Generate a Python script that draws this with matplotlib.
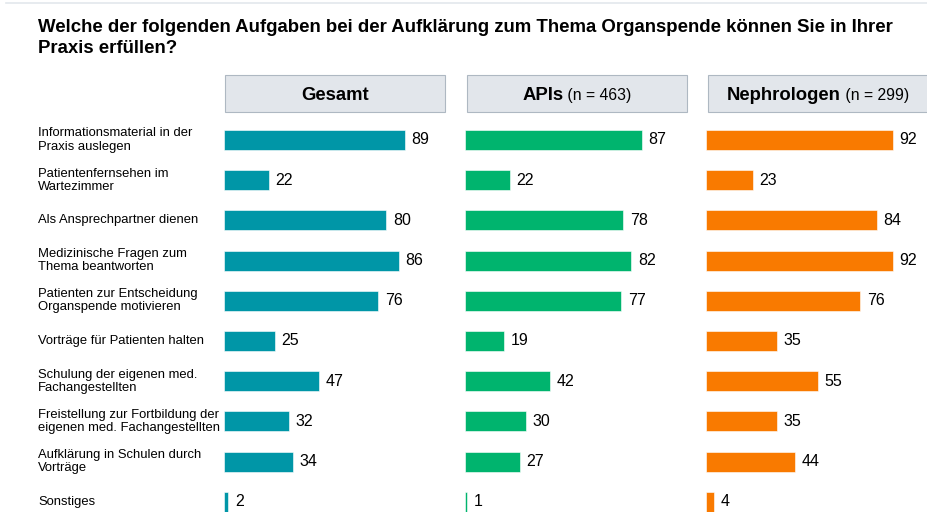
import matplotlib.pyplot as plt
from matplotlib.patches import Rectangle
from matplotlib.lines import Line2D

plt.rcParams['font.family'] = ['Liberation Sans', 'DejaVu Sans']

title = ('Welche der folgenden Aufgaben bei der Aufklärung zum Thema Organspende können Sie in Ihrer\n'
         'Praxis erfüllen?')

categories = [
    'Informationsmaterial in der\nPraxis auslegen',
    'Patientenfernsehen im\nWartezimmer',
    'Als Ansprechpartner dienen',
    'Medizinische Fragen zum\nThema beantworten',
    'Patienten zur Entscheidung\nOrganspende motivieren',
    'Vorträge für Patienten halten',
    'Schulung der eigenen med.\nFachangestellten',
    'Freistellung zur Fortbildung der\neigenen med. Fachangestellten',
    'Aufklärung in Schulen durch\nVorträge',
    'Sonstiges',
]
gesamt = [89, 22, 80, 86, 76, 25, 47, 32, 34, 2]
apis = [87, 22, 78, 82, 77, 19, 42, 30, 27, 1]
nephro = [92, 23, 84, 92, 76, 35, 55, 35, 44, 4]

headers_bold = ['Gesamt', 'APIs', 'Nephrologen']
headers_n = ['', ' (n = 463)', ' (n = 299)']
colors = ['#0096A7', '#00B46E', '#F97A00']
series = [gesamt, apis, nephro]

W, H = 927, 512
fig = plt.figure(figsize=(W / 100, H / 100), dpi=100)

# thin grey rule at the very top
fig.add_artist(Line2D([6 / W, 1], [1 - 3 / H, 1 - 3 / H], color='#E3E8EC', linewidth=1.2))

fig.text(38 / W, 1 - 19 / H, title, fontsize=13.4, fontweight='bold',
         ha='left', va='top', linespacing=1.3)

# layout in pixels
bar_x0 = [224, 465, 706]
box_x0 = [225, 467, 708]
box_w = 220
px_per_unit = 2.03
row0 = 140
row_step = 40.2
n = len(categories)
ax_top = row0 - row_step / 2
ax_h = row_step * n

for i in range(3):
    ax = fig.add_axes([bar_x0[i] / W, 1 - (ax_top + ax_h) / H, box_w / W, ax_h / H])
    ypos = list(range(n))
    ax.barh(ypos, series[i], height=0.5, color=colors[i], edgecolor='white', linewidth=0.4)
    for y, v in zip(ypos, series[i]):
        ax.text(v + 3.3, y, str(v), va='center', ha='left', fontsize=11.5)
    ax.set_xlim(0, box_w / px_per_unit)
    ax.set_ylim(n - 0.5, -0.5)
    ax.axis('off')

    # header box
    fig.patches.append(Rectangle((box_x0[i] / W, 1 - 112 / H), box_w / W, 37 / H,
                                 transform=fig.transFigure, facecolor='#E2E6EB',
                                 edgecolor='#AEB8C2', linewidth=0.8))

for j, lab in enumerate(categories):
    fig.text(38 / W, 1 - (row0 + j * row_step) / H, lab, fontsize=9.4,
             ha='left', va='center', linespacing=1.12)

# headers: bold name + normal count, centred together in the box
fig.canvas.draw()
r = fig.canvas.get_renderer()
for i in range(3):
    cx = box_x0[i] + box_w / 2
    cy = 1 - 95.5 / H
    tb = fig.text(0, cy, headers_bold[i], fontsize=13.3, fontweight='bold', ha='left', va='center')
    tn = fig.text(0, cy, headers_n[i], fontsize=11.3, ha='left', va='center')
    wb = tb.get_window_extent(r).width
    wn = tn.get_window_extent(r).width if headers_n[i] else 0
    start = cx - (wb + wn) / 2
    tb.set_x(start / W)
    tn.set_x((start + wb) / W)

fig.savefig('out.png', dpi=100)
